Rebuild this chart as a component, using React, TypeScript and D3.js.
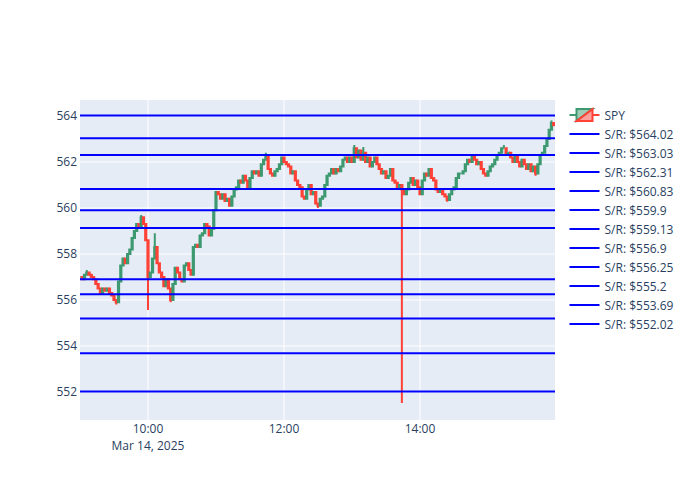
import React from "react";
import * as d3 from "d3";

const W = 700;
const H = 500;
const PLOT = { left: 80, right: 555, top: 100, bottom: 420 };

const SYMBOL = "SPY";
const DATE_LABEL = "Mar 14, 2025";
const STEP_MIN = 2;
const START = new Date(2025, 2, 14, 9, 0);
const X_END = new Date(2025, 2, 14, 16, 0);
const Y_DOMAIN = [550.783, 564.696];

const firstOpen = 557.0;
const closes = [
  557.0, 556.9, 557.1, 557.2, 557.1, 557.0, 556.9, 556.7, 556.5, 556.3,
  556.5, 556.4, 556.5, 556.3, 556.2, 556.0, 555.9, 556.8, 557.5, 557.8,
  557.6, 558.0, 558.2, 558.7, 559.0, 559.3, 559.2, 559.6, 559.3, 558.6,
  557.0, 557.2, 557.8, 558.3, 557.6, 557.2, 557.0, 556.6, 556.9, 556.5,
  556.0, 556.7, 557.4, 557.2, 556.9, 556.8, 557.5, 557.6, 557.3, 557.1,
  558.3, 558.4, 558.3, 558.8, 558.9, 559.3, 559.2, 558.8, 559.1, 559.9,
  560.7, 560.6, 560.4, 560.6, 560.3, 560.4, 560.1, 560.5, 560.8, 560.9,
  561.2, 561.1, 561.4, 561.2, 560.9, 561.3, 561.6, 561.5, 561.6, 561.4,
  561.9, 562.1, 562.3, 561.7, 561.5, 561.4, 561.6, 561.7, 561.9, 562.2,
  562.0, 561.9, 561.8, 561.5, 561.6, 561.2, 561.0, 560.9, 560.5, 560.4,
  560.8, 561.0, 560.6, 560.7, 560.2, 560.1, 560.4, 560.5, 561.0, 561.4,
  561.5, 561.7, 561.5, 561.7, 561.6, 561.8, 562.1, 562.2, 562.0, 562.2,
  562.0, 562.6, 562.2, 562.5, 562.1, 562.4, 562.0, 562.2, 561.8, 562.0,
  562.2, 561.9, 561.7, 561.5, 561.6, 561.3, 561.4, 561.7, 561.2, 561.1,
  560.9, 561.0, 560.8, 560.6, 560.8, 561.1, 561.3, 561.0, 561.2, 560.9,
  560.6, 561.2, 561.5, 561.4, 561.7, 561.3, 561.2, 560.8, 560.7, 560.8,
  560.6, 560.5, 560.35, 560.6, 560.8, 560.9, 561.3, 561.5, 561.5, 561.6,
  561.9, 562.1, 562.0, 562.3, 562.1, 561.9, 562.0, 561.7, 561.5, 561.4,
  561.6, 561.8, 561.9, 562.1, 562.3, 562.4, 562.6, 562.6, 562.3, 562.4,
  562.2, 562.0, 562.3, 562.0, 561.8, 562.1, 561.9, 561.7, 561.9, 561.6,
  561.8, 561.5, 561.9, 562.3, 562.4, 562.7, 563.0, 563.4, 563.7, 563.6,
];

// [candle index, price] for wicks that reach past the body
const wickHighs: [number, number][] = [
  [3, 557.3], [27, 559.7], [33, 558.9], [82, 562.4], [121, 562.74],
  [125, 562.65], [154, 561.74], [187, 562.74], [208, 563.8],
];
const wickLows: [number, number][] = [
  [16, 555.8], [30, 555.57], [40, 555.9], [105, 560.0], [142, 551.52],
  [162, 560.27], [201, 561.4],
];

const srLevels = [564.02, 563.03, 562.31, 560.83, 559.9, 559.13, 556.9, 556.25, 555.2, 553.69, 552.02];
const yTicks = [552, 554, 556, 558, 560, 562, 564];
const xTicks = [10, 12, 14];

const INC = "#3D9970";
const DEC = "#FF4136";
const TXT = "#2a3f5f";
const FONT = '"Open Sans", verdana, arial, sans-serif';

export default function App() {
  const x = d3.scaleTime().domain([START, X_END]).range([PLOT.left, PLOT.left + 476]);
  const y = d3.scaleLinear().domain(Y_DOMAIN).range([PLOT.bottom, PLOT.top]);

  const hiMap = new Map(wickHighs);
  const loMap = new Map(wickLows);
  const candles = closes.map((c, i) => {
    const o = i === 0 ? firstOpen : closes[i - 1];
    const h = hiMap.has(i) ? (hiMap.get(i) as number) : Math.max(o, c);
    const l = loMap.has(i) ? (loMap.get(i) as number) : Math.min(o, c);
    const t = new Date(START.getTime() + i * STEP_MIN * 60000);
    return { t, o, h, l, c };
  });

  const bw = 1.2;
  const candlePath = (d: any) => {
    const cx = x(d.t);
    const yo = y(d.o), yc = y(d.c), yh = y(d.h), yl = y(d.l);
    const top = Math.min(yo, yc), bot = Math.max(yo, yc);
    return `M${cx},${yh}V${top}M${cx - bw / 2},${top}H${cx + bw / 2}V${bot}H${cx - bw / 2}ZM${cx},${bot}V${yl}`;
  };

  const legendX = 564.5;
  const legendY0 = 115;
  const legendStep = 19;

  return (
    <svg width={W} height={H} style={{ position: "absolute", left: 0, top: 0, background: "#fff" }} fontFamily={FONT}>
      <defs>
        <clipPath id="plotclip">
          <rect x={PLOT.left} y={PLOT.top} width={PLOT.right - PLOT.left} height={PLOT.bottom - PLOT.top} />
        </clipPath>
      </defs>
      <rect x={PLOT.left} y={PLOT.top} width={PLOT.right - PLOT.left} height={PLOT.bottom - PLOT.top} fill="#E5ECF6" />
      {yTicks.map((v) => (
        <line key={"gy" + v} x1={PLOT.left} x2={PLOT.right} y1={y(v)} y2={y(v)} stroke="#fff" strokeWidth={1} />
      ))}
      {xTicks.map((h) => {
        const xv = x(new Date(2025, 2, 14, h, 0));
        return <line key={"gx" + h} x1={xv} x2={xv} y1={PLOT.top} y2={PLOT.bottom} stroke="#fff" strokeWidth={1} />;
      })}
      <g clipPath="url(#plotclip)">
        {candles.map((d, i) => {
          const col = d.c >= d.o ? INC : DEC;
          const fill = d.c >= d.o ? "rgba(61,153,112,0.5)" : "rgba(255,65,54,0.5)";
          return <path key={i} d={candlePath(d)} stroke={col} strokeWidth={2} fill={fill} />;
        })}
        {srLevels.map((v) => (
          <line key={"sr" + v} x1={PLOT.left} x2={PLOT.right} y1={y(v)} y2={y(v)} stroke="#0000ff" strokeWidth={2} />
        ))}
      </g>
      {yTicks.map((v) => (
        <text key={"ty" + v} x={PLOT.left - 3} y={y(v) + 4.2} textAnchor="end" fontSize={12} fill={TXT}>
          {d3.format("d")(v)}
        </text>
      ))}
      {xTicks.map((h, i) => {
        const t = new Date(2025, 2, 14, h, 0);
        const xv = x(t);
        return (
          <g key={"tx" + h}>
            <text x={xv} y={432.5} textAnchor="middle" fontSize={12} fill={TXT}>
              {d3.timeFormat("%H:%M")(t)}
            </text>
            {i === 0 && (
              <text x={xv} y={449.5} textAnchor="middle" fontSize={12} fill={TXT}>
                {DATE_LABEL}
              </text>
            )}
          </g>
        );
      })}
      {/* legend */}
      <g transform={`translate(${legendX + 20},${legendY0})`}>
        <path d="M-15,0H-8M-8,6V-6H8Z" stroke={INC} strokeWidth={2} fill="rgba(61,153,112,0.5)" />
        <path d="M15,0H8M8,-6V6H-8Z" stroke={DEC} strokeWidth={2} fill="rgba(255,65,54,0.5)" />
      </g>
      <text x={legendX + 40} y={legendY0 + 4.5} fontSize={12} fill={TXT}>{SYMBOL}</text>
      {srLevels.map((v, i) => {
        const ly = legendY0 + (i + 1) * legendStep;
        return (
          <g key={"lg" + v}>
            <line x1={legendX + 5} x2={legendX + 35} y1={ly} y2={ly} stroke="#0000ff" strokeWidth={2} />
            <text x={legendX + 40} y={ly + 4.5} fontSize={12} fill={TXT}>{`S/R: $${v}`}</text>
          </g>
        );
      })}
    </svg>
  );
}
